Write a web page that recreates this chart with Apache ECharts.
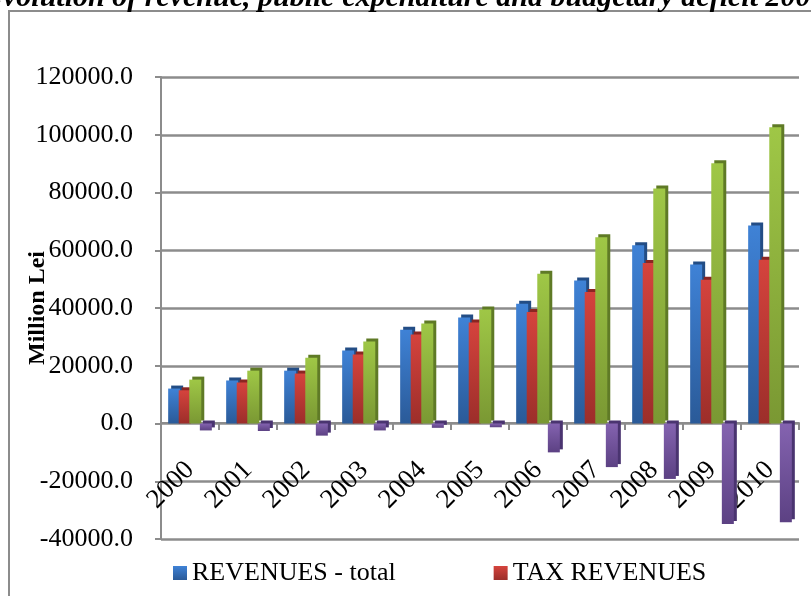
<!DOCTYPE html>
<html>
<head>
<meta charset="utf-8">
<script src="https://cdn.jsdelivr.net/npm/echarts@6/dist/echarts.min.js"></script>
<style>
  html, body { margin: 0; padding: 0; background: #fff; }
  #container { width: 811px; height: 596px; }
</style>
</head>
<body>
<div id="container"></div>
<script>
// years on the x axis
const years = ['2000','2001','2002','2003','2004','2005','2006','2007','2008','2009','2010'];
// million lei
const revenuesTotal = [12100, 14900, 18300, 25300, 32500, 36700, 41500, 49500, 61700, 55100, 68600];
const taxRevenues   = [11500, 14200, 17300, 23900, 30800, 35000, 38600, 45500, 55600, 49800, 56700];
const expenditure   = [15200, 18300, 22800, 28400, 34600, 39500, 51900, 64500, 81400, 90100, 102600];
const deficit       = [-2400, -2600, -4200, -2400, -1500, -1300, -10000, -15100, -19200, -34800, -34200];
const yTicks = [-40000, 120000, 20000]; // min, max, interval

const serif = '"Liberation Serif", "DejaVu Serif", serif';

function grad(top, bottom) {
    return new echarts.graphic.LinearGradient(0, 0, 0, 1, [
        {offset: 0, color: top},
        {offset: 1, color: bottom}
    ]);
}

function barSeries(name, data, top, bottom, side) {
    return {
        name: name,
        type: 'bar',
        data: data,
        barWidth: 12,
        barGap: '-12%',
        barCategoryGap: '26%',
        itemStyle: {
            color: grad(top, bottom),
            shadowColor: side,
            shadowBlur: 0,
            shadowOffsetX: 3,
            shadowOffsetY: -3
        }
    };
}

let option = {
    animation: false,
    backgroundColor: '#fff',
    title: {
        text: 'Evolution of revenue, public expenditure and budgetary deficit 2000-2010',
        left: -22,
        top: -22,
        textStyle: {
            fontFamily: serif,
            fontSize: 30,
            fontWeight: 'bold',
            fontStyle: 'italic',
            color: '#000'
        }
    },
    graphic: [{
        type: 'rect',
        shape: {x: 9, y: 11, width: 830, height: 620},
        style: {fill: 'none', stroke: '#8c8c8c', lineWidth: 2},
        silent: true
    }],
    legend: {
        data: ['REVENUES - total', 'TAX REVENUES'],
        left: 168,
        top: 555,
        icon: 'rect',
        itemWidth: 14,
        itemHeight: 14,
        itemGap: 98,
        textStyle: {fontFamily: serif, fontSize: 26, color: '#000'}
    },
    grid: {left: 161, right: 12, top: 77, bottom: 57, containLabel: false, outerBoundsMode: 'none'},
    xAxis: {
        type: 'category',
        data: years,
        // category labels hang under the zero line, not under the plot
        offset: -116,
        axisLine: {onZero: false, lineStyle: {color: '#8c8c8c', width: 2}},
        axisTick: {show: true, length: 7, lineStyle: {color: '#8c8c8c', width: 2}},
        axisLabel: {
            rotate: 45,
            margin: 43,
            fontFamily: serif,
            fontSize: 27,
            color: '#000'
        }
    },
    yAxis: {
        type: 'value',
        min: yTicks[0],
        max: yTicks[1],
        interval: yTicks[2],
        name: 'Million Lei',
        nameLocation: 'middle',
        nameGap: 111,
        nameMoveOverlap: false,
        nameTextStyle: {fontFamily: serif, fontSize: 24, fontWeight: 'bold', color: '#000'},
        axisLine: {show: true, lineStyle: {color: '#8c8c8c', width: 2}},
        axisTick: {show: true, length: 6, lineStyle: {color: '#8c8c8c', width: 2}},
        axisLabel: {
            margin: 28,
            fontFamily: serif,
            fontSize: 26,
            color: '#000',
            formatter: v => v.toFixed(1)
        },
        splitLine: {lineStyle: {color: '#8c8c8c', width: 2.5}}
    },
    series: [
        barSeries('REVENUES - total', revenuesTotal, '#3f82d6', '#2a5a98', '#234d85'),
        barSeries('TAX REVENUES', taxRevenues, '#d5433d', '#9c2e2a', '#8a2622'),
        barSeries('PUBLIC EXPENDITURE', expenditure, '#9fc746', '#7a9833', '#5f7a26'),
        barSeries('BUDGETARY DEFICIT', deficit, '#8463b0', '#5c4183', '#4a3470')
    ]
};

let myChart = echarts.init(document.getElementById('container'));
myChart.setOption(option);
</script>
</body>
</html>
